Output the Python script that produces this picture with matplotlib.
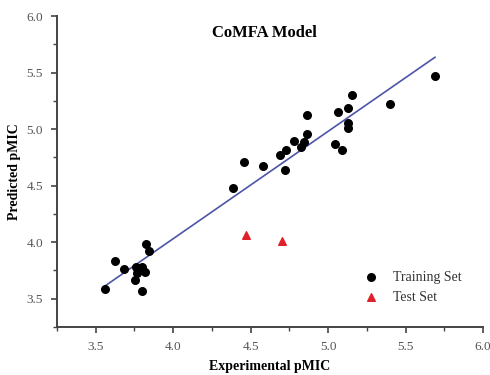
import matplotlib.pyplot as plt
from matplotlib.ticker import MultipleLocator

# CoMFA model: experimental vs predicted pMIC
train_exp = [3.56, 3.625, 3.68, 3.758, 3.756, 3.767, 3.80, 3.817, 3.80, 3.823, 3.844,
             4.387, 4.456, 4.583, 4.721, 4.691, 4.727, 4.777, 4.824, 4.844, 4.865,
             4.865, 5.046, 5.089, 5.065, 5.126, 5.126, 5.126, 5.152, 5.397, 5.688]
train_pred = [3.59, 3.837, 3.76, 3.784, 3.669, 3.731, 3.78, 3.736, 3.566, 3.987, 3.919,
              4.481, 4.71, 4.677, 4.642, 4.768, 4.812, 4.895, 4.845, 4.889, 4.959,
              5.121, 4.869, 4.818, 5.156, 5.189, 5.054, 5.01, 5.306, 5.224, 5.471]
test_exp = [4.473, 4.704]
test_pred = [4.063, 4.013]
fit_x = [3.56, 5.69]
fit_y = [3.613, 5.636]

plt.rcParams['font.family'] = ['Liberation Serif', 'DejaVu Serif']

fig = plt.figure(figsize=(4.9, 3.75), dpi=100)
ax = fig.add_axes([0.1163, 0.128, 0.8694, 0.829])

ax.plot(fit_x, fit_y, color='#4c55a8', lw=1.2, zorder=1)
ax.scatter(train_exp, train_pred, s=30, color='black', zorder=3, label='Training Set')
ax.scatter(test_exp, test_pred, s=30, marker='^', color='#e0202a', zorder=3, label='Test Set')

ax.set_xlim(3.25, 6.0)
ax.set_ylim(3.25, 6.0)
ax.xaxis.set_major_locator(MultipleLocator(0.5))
ax.xaxis.set_minor_locator(MultipleLocator(0.25))
ax.yaxis.set_major_locator(MultipleLocator(0.5))
ax.yaxis.set_minor_locator(MultipleLocator(0.25))
ax.xaxis.set_major_formatter(plt.FormatStrFormatter('%.1f'))
ax.yaxis.set_major_formatter(plt.FormatStrFormatter('%.1f'))

for side in ['top', 'right']:
    ax.spines[side].set_visible(False)
for side in ['left', 'bottom']:
    ax.spines[side].set_color('#444444')
    ax.spines[side].set_linewidth(1.4)
ax.tick_params(which='major', direction='out', length=4, width=1.2, color='#444444',
               labelsize=9.5, labelcolor='#555555', pad=6)
ax.tick_params(which='minor', direction='out', length=3, width=1.0, color='#444444')

ax.set_xlabel('Experimental pMIC', fontsize=10, fontweight='bold', labelpad=5)
ax.set_ylabel('Predicted pMIC', fontsize=10, fontweight='bold', labelpad=4)
ax.text(0.488, 0.945, 'CoMFA Model', transform=ax.transAxes, ha='center', va='center',
        fontsize=12, fontweight='bold')

ax.legend(loc='lower right', bbox_to_anchor=(0.98, 0.035), frameon=False, fontsize=10,
          handletextpad=0.6, labelspacing=0.5, labelcolor='#333333')

fig.savefig('out.png', dpi=100)
